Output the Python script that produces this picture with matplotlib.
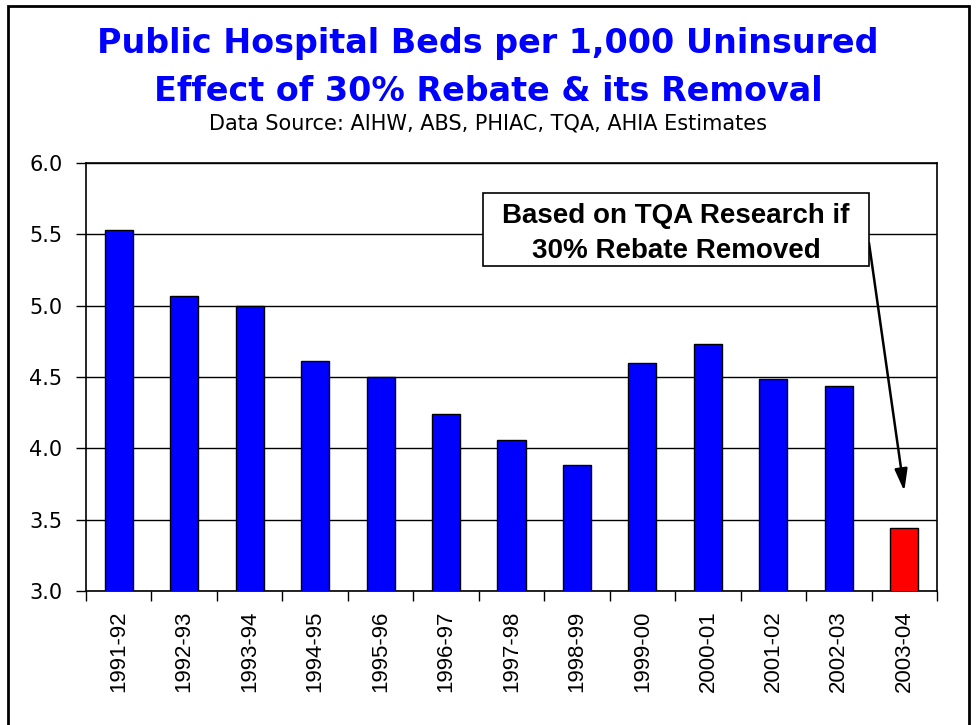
import matplotlib
matplotlib.use("Agg")
import matplotlib.pyplot as plt
from matplotlib.patches import Rectangle

categories = ["1991-92", "1992-93", "1993-94", "1994-95", "1995-96", "1996-97",
              "1997-98", "1998-99", "1999-00", "2000-01", "2001-02", "2002-03", "2003-04"]
values = [5.53, 5.065, 5.00, 4.615, 4.50, 4.24, 4.058, 3.886, 4.60, 4.732, 4.483, 4.44, 3.443]
colors = ["#0000FF"] * 12 + ["#FF0000"]
yticks = [3.0, 3.5, 4.0, 4.5, 5.0, 5.5, 6.0]

plt.rcParams['font.family'] = ['Liberation Sans', 'DejaVu Sans']

W, H = 976, 725
fig = plt.figure(figsize=(W / 100, H / 100), dpi=100)

def fy(py):
    return 1 - py / H

# figure frame
fig.patches.append(Rectangle((8 / W, -0.01), (969 - 8) / W, (H - 6) / H + 0.01,
                             transform=fig.transFigure, fill=False,
                             edgecolor="black", linewidth=2))

left, right, top, bottom = 86, 937, 163, 591
ax = fig.add_axes([left / W, 1 - bottom / H, (right - left) / W, (bottom - top) / H])

x = list(range(len(categories)))
ax.bar(x, values, width=0.43, color=colors, edgecolor="black", linewidth=1, zorder=3)
ax.set_xlim(-0.5, len(categories) - 0.5)
ax.set_ylim(3.0, 6.0)
ax.set_yticks(yticks)
ax.set_yticklabels([f"{v:.1f}" for v in yticks], fontsize=15, family="DejaVu Sans")
ax.yaxis.grid(True, color="black", linewidth=1, zorder=0)
ax.set_axisbelow(True)

ax.set_xticks([i + 0.5 for i in range(len(categories) - 1)] + [-0.5, len(categories) - 0.5])
ax.set_xticklabels([])
ax.tick_params(axis="x", length=7, width=1, direction="out", color="black")
ax.set_xticks(x, minor=True)
ax.set_xticklabels(categories, minor=True, rotation=90, fontsize=16)
ax.tick_params(axis="x", which="minor", length=0, pad=14)
ax.tick_params(axis="y", length=7, width=1, pad=10)
for s in ax.spines.values():
    s.set_linewidth(1.2)
    s.set_color("black")

fig.text(0.5, fy(53.3), "Public Hospital Beds per 1,000 Uninsured", ha="center", va="baseline",
         color="#0000FF", fontsize=24, fontweight="bold", family="DejaVu Sans")
fig.text(0.5, fy(100.7), "Effect of 30% Rebate & its Removal", ha="center", va="baseline",
         color="#0000FF", fontsize=24, fontweight="bold", family="DejaVu Sans")
fig.text(0.5, fy(129.3), "Data Source: AIHW, ABS, PHIAC, TQA, AHIA Estimates", ha="center",
         va="baseline", color="black", fontsize=15, family="DejaVu Sans")

# annotation box and arrow
bx0, bx1, by0, by1 = 483, 869, 193, 266
fig.patches.append(Rectangle((bx0 / W, fy(by1)), (bx1 - bx0) / W, (by1 - by0) / H,
                             transform=fig.transFigure, facecolor="white",
                             edgecolor="black", linewidth=1.2, zorder=5))
cx = (bx0 + bx1) / 2 / W
fig.text(cx, fy(222.7), "Based on TQA Research if", ha="center", va="baseline",
         fontsize=20, fontweight="bold", zorder=6)
fig.text(cx, fy(258.3), "30% Rebate Removed", ha="center", va="baseline",
         fontsize=20, fontweight="bold", zorder=6)
ax.annotate("", xy=(12, 3.70), xytext=(869 / W, fy(243)), textcoords="figure fraction",
            xycoords="data",
            arrowprops=dict(arrowstyle="-|>,head_length=1.2,head_width=0.35", color="black",
                            lw=1.8, mutation_scale=11, shrinkA=0, shrinkB=0), zorder=7)

fig.savefig("out.png", dpi=100)
